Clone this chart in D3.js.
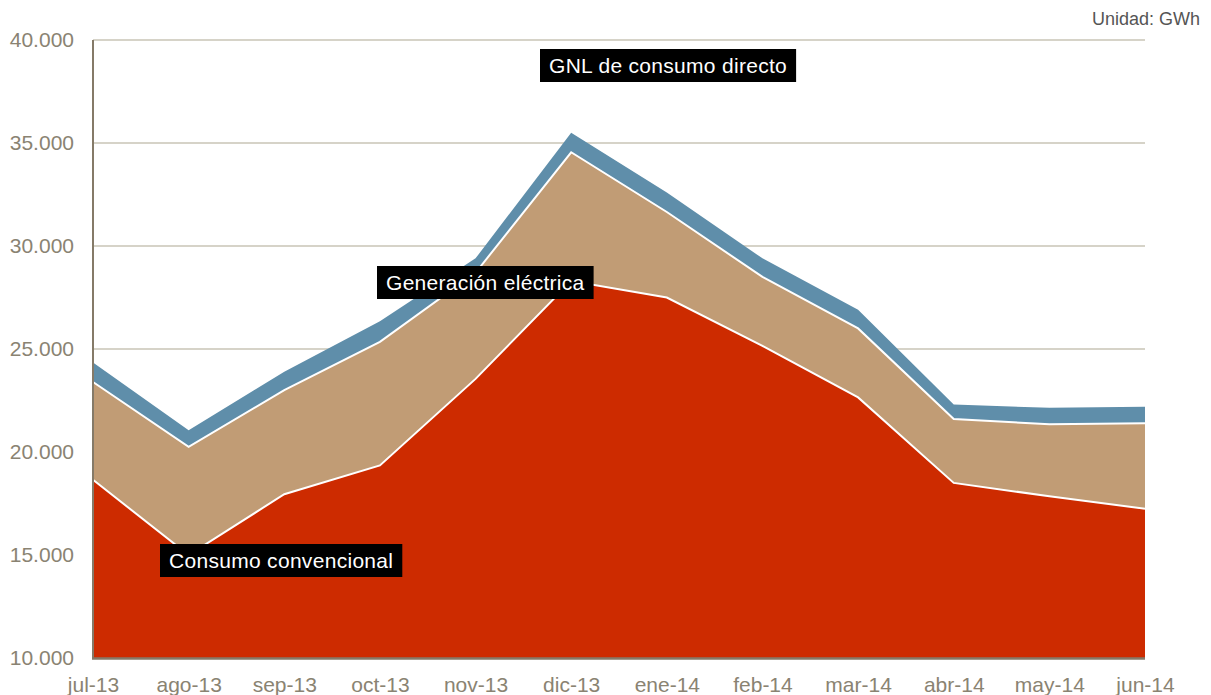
<!DOCTYPE html>
<html>
<head>
<meta charset="utf-8">
<script src="https://cdn.jsdelivr.net/npm/d3@7"></script>
<style>
  html, body { margin: 0; padding: 0; background: #ffffff; }
  svg { display: block; font-family: "Liberation Sans", Arial, sans-serif; }
</style>
</head>
<body>
<svg id="chart" width="1211" height="695"></svg>
<script>
// Monthly natural gas demand, stacked by use (GWh)
const months = ["jul-13", "ago-13", "sep-13", "oct-13", "nov-13", "dic-13",
                "ene-14", "feb-14", "mar-14", "abr-14", "may-14", "jun-14"];
const consumoConvencional = [18650, 15000, 17950, 19350, 23550, 28300, 27500, 25150, 22650, 18500, 17850, 17250];
const generacionElectrica = [4750, 5250, 5050, 6000, 5150, 6250, 4150, 3350, 3350, 3100, 3500, 4150];
const gnlConsumoDirecto = [950, 800, 900, 1000, 700, 950, 950, 900, 900, 700, 800, 800];
const yTicks = [10000, 15000, 20000, 25000, 30000, 35000, 40000];
const seriesNames = ["Consumo convencional", "Generación eléctrica", "GNL de consumo directo"];
const seriesColors = ["#cd2b00", "#c19c75", "#5f8eaa"];

const rows = months.map((m, i) => ({
  month: m,
  "Consumo convencional": consumoConvencional[i],
  "Generación eléctrica": generacionElectrica[i],
  "GNL de consumo directo": gnlConsumoDirecto[i]
}));

const svg = d3.select("#chart");
const plotLeft = 93, plotRight = 1145, plotTop = 40, plotBottom = 658;

const x = d3.scalePoint().domain(months).range([plotLeft, plotRight]);
const y = d3.scaleLinear().domain([10000, 40000]).range([plotBottom, plotTop]).clamp(true);

const stacked = d3.stack().keys(seriesNames)(rows);

// Horizontal gridlines
svg.append("g")
  .selectAll("line")
  .data(yTicks.filter(t => t > 10000))
  .join("line")
  .attr("x1", plotLeft).attr("x2", plotRight)
  .attr("y1", d => y(d)).attr("y2", d => y(d))
  .attr("stroke", "#c9c4b6")
  .attr("stroke-width", 1.5);

// Stacked areas
const area = d3.area()
  .x(d => x(d.data.month))
  .y0(d => y(d[0]))
  .y1(d => y(d[1]));

svg.append("g")
  .selectAll("path")
  .data(stacked)
  .join("path")
  .attr("d", area)
  .attr("fill", (d, i) => seriesColors[i]);

// White separators on top of the two lower layers
const topLine = d3.line()
  .x(d => x(d.data.month))
  .y(d => y(d[1]));

svg.append("g")
  .selectAll("path")
  .data(stacked.slice(0, 2))
  .join("path")
  .attr("d", topLine)
  .attr("fill", "none")
  .attr("stroke", "#ffffff")
  .attr("stroke-width", 2);

// Axes
const axisColor = "#857a68";
const tickColor = "#8a8372";

svg.append("line")
  .attr("x1", plotLeft).attr("x2", plotLeft)
  .attr("y1", plotTop).attr("y2", plotBottom)
  .attr("stroke", axisColor).attr("stroke-width", 2);

svg.append("line")
  .attr("x1", plotLeft - 1).attr("x2", plotRight)
  .attr("y1", plotBottom + 0.5).attr("y2", plotBottom + 0.5)
  .attr("stroke", axisColor).attr("stroke-width", 2.5);

const yAxis = d3.axisLeft(y)
  .tickValues(yTicks)
  .tickSize(0)
  .tickPadding(0)
  .tickFormat(d => d3.format(",")(d).replace(/,/g, "."));

svg.append("g")
  .attr("transform", `translate(${plotLeft - 19},0)`)
  .call(yAxis)
  .call(g => g.select(".domain").remove())
  .call(g => g.selectAll("text")
    .attr("fill", tickColor)
    .attr("font-size", 21)
    .attr("font-family", "Liberation Sans, Arial, sans-serif"));

const xAxis = d3.axisBottom(x).tickSize(0).tickPadding(0);

svg.append("g")
  .attr("transform", `translate(0,${plotBottom + 19})`)
  .call(xAxis)
  .call(g => g.select(".domain").remove())
  .call(g => g.selectAll("text")
    .attr("fill", tickColor)
    .attr("font-size", 21)
    .attr("font-family", "Liberation Sans, Arial, sans-serif"));

// Unit note
svg.append("text")
  .attr("x", 1200).attr("y", 25)
  .attr("text-anchor", "end")
  .attr("fill", "#555555")
  .attr("font-size", 18)
  .text("Unidad: GWh");

// Series labels in black boxes
const labels = [
  { text: seriesNames[2], x: 540, y: 49 },
  { text: seriesNames[1], x: 377, y: 266 },
  { text: seriesNames[0], x: 160, y: 544 }
];

labels.forEach(l => {
  const g = svg.append("g").attr("transform", `translate(${l.x},${l.y})`);
  const rect = g.append("rect").attr("fill", "#000000");
  const t = g.append("text")
    .attr("x", 9).attr("y", 24)
    .attr("fill", "#ffffff")
    .attr("font-size", 21)
    .attr("letter-spacing", 0.3)
    .text(l.text);
  const w = t.node().getComputedTextLength();
  rect.attr("width", w + 18).attr("height", 33);
});
</script>
</body>
</html>
